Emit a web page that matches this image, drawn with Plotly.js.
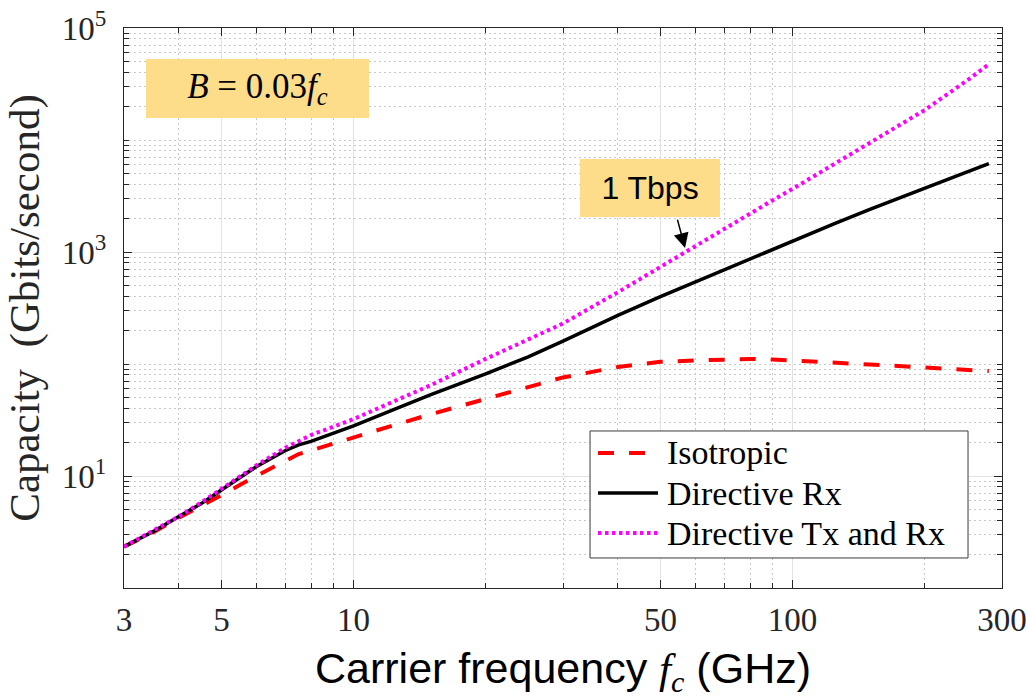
<!DOCTYPE html>
<html>
<head>
<meta charset="utf-8">
<script src="https://cdn.plot.ly/plotly-3.0.1.min.js"></script>
<style>
  html, body { margin: 0; padding: 0; background: #fff; }
  #chart { width: 1027px; height: 699px; }
</style>
</head>
<body>
<div id="chart"></div>
<script>
// Carrier frequency samples (GHz)
const freqGHz = [3, 3.5, 4, 4.5, 5, 6, 7, 7.5, 8, 10, 12.5, 15, 20, 25, 30, 40, 50, 60, 70, 80, 90, 100, 125, 150, 200, 250, 280];

// Capacity (Gbits/second) for each antenna configuration
const capIsotropic = [2.34, 3.15, 4.23, 5.38, 6.74, 10.0, 13.7, 15.7, 16.9, 22.2, 28.8, 35.6, 49, 61.9, 75.9, 94, 104.5, 107.5, 110.5, 111, 109.5, 107.5, 102, 99, 93, 88, 86.5];
const capDirectiveRx = [2.34, 3.2, 4.35, 5.67, 7.5, 12.1, 16.9, 19.0, 20.4, 28, 40, 53.4, 81.5, 116, 160, 272, 400, 540, 700, 872, 1060, 1260, 1800, 2400, 3750, 5200, 6150];
const capDirectiveTxRx = [2.34, 3.25, 4.35, 5.8, 7.7, 12.4, 17.9, 20.7, 23.2, 32.2, 47.5, 64.8, 111, 165, 230, 437, 736, 1137, 1600, 2193, 2890, 3660, 6130, 9460, 18500, 34000, 47500];

const seriesNames = ['Isotropic', 'Directive Rx', 'Directive Tx and Rx'];
const seriesColors = ['#ff0000', '#000000', '#ff00ff'];
const seriesWidths = [4, 3.5, 4];
const seriesDash = ['16px,15px', 'solid', '3.5px,3.5px'];

// Axis ticks
const xTickVals = [3, 5, 10, 50, 100, 300];
const xTickText = ['3', '5', '10', '50', '100', '300'];
const xMinorVals = [4, 6, 7, 8, 9, 20, 30, 40, 60, 70, 80, 90, 200];
const yTickVals = [10, 1000, 100000];
const yTickText = ['10<sup>1</sup>', '10<sup>3</sup>', '10<sup>5</sup>'];

// minor y ticks: every digit of each decade that is not a labelled tick
const yMinorVals = [];
[1, 10, 100, 1000, 10000].forEach(function (dec) {
  for (let k = 1; k <= 9; k++) {
    const v = k * dec;
    if (yTickVals.indexOf(v) < 0 && v > 1) yMinorVals.push(v);
  }
});

const axisColor = '#262626';
const serif = 'Liberation Serif, Times New Roman, serif';
const sans = 'Liberation Sans, Arial, sans-serif';
const eps = 1e-6;

const seriesValues = [capIsotropic, capDirectiveRx, capDirectiveTxRx];
const traces = seriesValues.map(function (vals, i) {
  return {
    x: freqGHz, y: vals, name: seriesNames[i], type: 'scatter', mode: 'lines',
    showlegend: false,
    line: { color: seriesColors[i], width: seriesWidths[i], dash: seriesDash[i] }
  };
});

// Legend box drawn in paper coordinates (bottom right of the plot)
const legendBox = { x0: 0.5308, x1: 0.9613, y0: 0.0536, y1: 0.2804 };
const legendRows = [0.2411, 0.1696, 0.0982];
const legendLineX = [0.5399, 0.6082];
const legendTextX = 0.6162;

const shapes = [{
  type: 'rect', xref: 'paper', yref: 'paper', layer: 'above',
  x0: legendBox.x0, x1: legendBox.x1, y0: legendBox.y0, y1: legendBox.y1,
  fillcolor: '#ffffff', line: { color: '#3a3a3a', width: 1 }
}];
const legendTexts = [];
seriesNames.forEach(function (name, i) {
  shapes.push({
    type: 'line', xref: 'paper', yref: 'paper', layer: 'above',
    x0: legendLineX[0], x1: legendLineX[1], y0: legendRows[i], y1: legendRows[i],
    line: { color: seriesColors[i], width: seriesWidths[i], dash: seriesDash[i] }
  });
  legendTexts.push({
    xref: 'paper', yref: 'paper', x: legendTextX, y: legendRows[i],
    xanchor: 'left', yanchor: 'middle', showarrow: false, text: name,
    font: { family: serif, size: 34, color: '#000000' }
  });
});

const commonAxis = {
  type: 'log',
  tickmode: 'array',
  ticks: 'inside',
  ticklen: 8,
  tickwidth: 1,
  tickcolor: axisColor,
  showline: true,
  linecolor: axisColor,
  linewidth: 1,
  mirror: 'ticks',
  showgrid: true,
  gridcolor: '#e2e2e2',
  gridwidth: 1,
  zeroline: false,
  ticklabeloverflow: 'allow',
  tickfont: { family: serif, size: 33, color: axisColor }
};

const layout = {
  width: 1027,
  height: 699,
  margin: { l: 124, r: 25, t: 28, b: 111 },
  paper_bgcolor: '#ffffff',
  plot_bgcolor: '#ffffff',
  showlegend: false,
  xaxis: Object.assign({}, commonAxis, {
    range: [Math.log10(3) - eps, Math.log10(300) + eps],
    tickvals: xTickVals,
    ticktext: xTickText,
    ticklabelstandoff: 2,
    minor: {
      tickmode: 'array', tickvals: xMinorVals, ticks: 'inside', ticklen: 5,
      tickcolor: axisColor, showgrid: true, gridcolor: '#c8c8c8', griddash: '2px,3px', gridwidth: 1
    },
    title: {
      text: 'Carrier frequency <span style="font-family:Liberation Serif"><i>f</i><sub><i>c</i></sub></span> (GHz)',
      font: { family: sans, size: 43, color: '#000000' },
      standoff: 22
    }
  }),
  yaxis: Object.assign({}, commonAxis, {
    range: [0, 5],
    tickvals: yTickVals,
    ticktext: yTickText,
    ticklabelstandoff: 10,
    minor: {
      tickmode: 'array', tickvals: yMinorVals, ticks: 'inside', ticklen: 5,
      tickcolor: axisColor, showgrid: true, gridcolor: '#c8c8c8', griddash: '2px,3px', gridwidth: 1
    },
    title: {
      text: 'Capacity  (Gbits/second)',
      font: { family: serif, size: 43, color: axisColor },
      standoff: 8
    }
  }),
  shapes: shapes,
  annotations: [
    {
      xref: 'paper', yref: 'paper', x: 0.152, y: 0.892, xanchor: 'center', yanchor: 'middle',
      text: '<i>B</i> = 0.03<i>f</i><sub><i>c</i></sub>', showarrow: false,
      bgcolor: '#fddc8a', width: 223, height: 59, borderpad: 0, borderwidth: 0,
      font: { family: serif, size: 35, color: '#000000' }
    },
    {
      xref: 'paper', yref: 'paper', x: 0.599, y: 0.714, xanchor: 'center', yanchor: 'middle',
      text: '1 Tbps', showarrow: false,
      bgcolor: '#fddc8a', width: 140, height: 58, borderpad: 0, borderwidth: 0,
      font: { family: sans, size: 32, color: '#000000' }
    },
    {
      xref: 'paper', yref: 'paper', x: 0.639, y: 0.607,
      text: '', showarrow: true, arrowhead: 2, arrowsize: 2, arrowwidth: 1.5,
      arrowcolor: '#000000', ax: -8, ay: -30, standoff: 0
    }
  ].concat(legendTexts)
};

Plotly.newPlot('chart', traces, layout, { displayModeBar: false, staticPlot: true });
</script>
</body>
</html>
